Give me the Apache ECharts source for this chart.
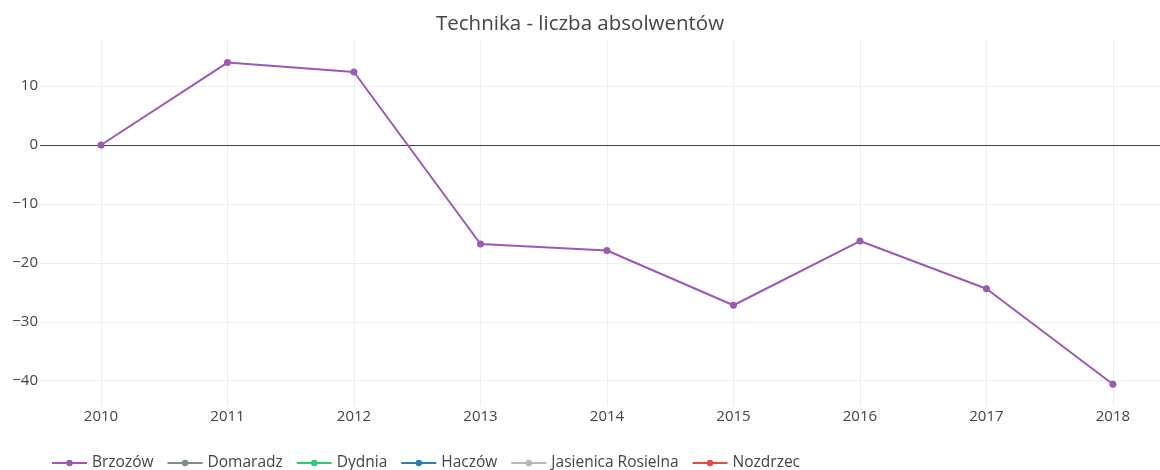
<!DOCTYPE html>
<html>
<head>
<meta charset="utf-8">
<title>Technika - liczba absolwentów</title>
<script src="https://cdn.jsdelivr.net/npm/echarts@6/dist/echarts.min.js"></script>
<style>
    html, body { margin: 0; padding: 0; background: #fff; }
    #chartLineBox { width: 1160px; height: 470px; }
</style>
</head>
<body>
<div id="chartLineBox"></div>
<script>
    // lata na osi X
    var years = [2010, 2011, 2012, 2013, 2014, 2015, 2016, 2017, 2018];
    var yTicks = [-40, -30, -20, -10, 0, 10];

    // wartości serii (tylko Brzozów jest widoczny na wykresie)
    var brzozow = [0, 14.0, 12.4, -16.8, -17.9, -27.2, -16.3, -24.4, -40.6];
    var domaradz = [];
    var dydnia = [];
    var haczow = [];
    var jasienica = [];
    var nozdrzec = [];

    var names = ['Brzozów', 'Domaradz', 'Dydnia', 'Haczów', 'Jasienica Rosielna', 'Nozdrzec'];
    var values = [brzozow, domaradz, dydnia, haczow, jasienica, nozdrzec];
    var colors = ['#9b59b6', '#7f8c8d', '#2ecc71', '#2980b9', '#b3b8bb', '#e74c3c'];

    var font = '"Open Sans", "DejaVu Sans", sans-serif';

    var chartLine = echarts.init(document.getElementById('chartLineBox'));

    var series = [];
    for (var i = 0; i < names.length; i++) {
        var pts = [];
        for (var j = 0; j < values[i].length; j++) {
            pts.push([years[j], values[i][j]]);
        }
        var s = {
            name: names[i],
            type: 'line',
            data: pts,
            symbol: 'circle',
            symbolSize: 7,
            color: colors[i],
            lineStyle: { width: 2, color: colors[i] },
            itemStyle: { color: colors[i] },
            z: 3
        };
        if (i === 0) {
            // linia zerowa
            s.markLine = {
                silent: true,
                symbol: 'none',
                label: { show: false },
                lineStyle: { color: '#444', width: 1, type: 'solid' },
                data: [{ yAxis: 0 }],
                z: 2
            };
        }
        series.push(s);
    }

    var option = {
        animation: false,
        title: {
            text: 'Technika - liczba absolwentów',
            left: 'center',
            top: 9,
            textStyle: { fontFamily: font, fontSize: 20.5, fontWeight: 'normal', color: '#444' }
        },
        legend: {
            data: names,
            left: 46,
            top: 450,
            itemWidth: 35,
            itemHeight: 8,
            itemGap: 13,
            textStyle: { fontFamily: font, fontSize: 15.5, color: '#444' }
        },
        grid: { left: 40, right: 0, top: 39, bottom: 64, containLabel: false },
        xAxis: {
            type: 'value',
            min: 2009.518,
            max: 2018.372,
            axisLine: { show: false },
            axisTick: { show: false, customValues: years },
            axisLabel: {
                customValues: years,
                color: '#444',
                fontFamily: font,
                fontSize: 15,
                margin: 3,
                formatter: function (v) { return String(v); }
            },
            splitLine: { show: true, lineStyle: { color: '#eee', width: 1 } }
        },
        yAxis: {
            type: 'value',
            min: -44.3,
            max: 18.0,
            axisLine: { show: false },
            axisTick: { show: false, customValues: yTicks },
            axisLabel: {
                customValues: yTicks,
                color: '#444',
                fontFamily: font,
                fontSize: 15,
                margin: 2,
                formatter: function (v) { return String(v).replace('-', '\u2212'); }
            },
            splitLine: { show: true, lineStyle: { color: '#eee', width: 1 } }
        },
        series: series
    };
    chartLine.setOption(option);
</script>
</body>
</html>
